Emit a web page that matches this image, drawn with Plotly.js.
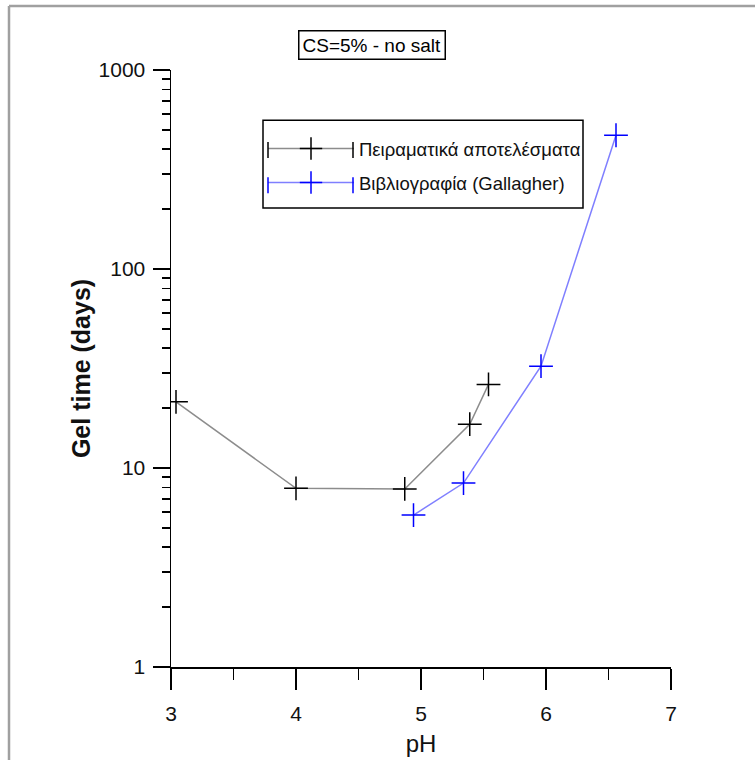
<!DOCTYPE html>
<html>
<head>
<meta charset="utf-8">
<script src="https://cdn.plot.ly/plotly-3.0.1.min.js"></script>
<style>
  html, body { margin: 0; padding: 0; background: #fff; }
  #chart { width: 755px; height: 760px; }
</style>
</head>
<body>
<div id="chart"></div>
<script>
// Data
const expPH = [3.04, 4.0, 4.87, 5.39, 5.54];
const expDays = [21.5, 7.9, 7.85, 16.6, 26.3];
const litPH = [4.94, 5.34, 5.96, 6.56];
const litDays = [5.8, 8.4, 32.5, 470];

const seriesNames = ["Πειραματικά αποτελέσματα", "Βιβλιογραφία (Gallagher)"];
const chartTitle = "CS=5% - no salt";
const xTitle = "pH";
const yTitle = "Gel time (days)";
const xTicks = [3, 4, 5, 6, 7];
const yTicks = [1, 10, 100, 1000];

const FONT = "Liberation Sans, Arial, sans-serif";
const tickFont = { family: FONT, size: 21, color: "#111" };

const traces = [
  {
    x: expPH, y: expDays, name: seriesNames[0], type: "scatter", mode: "lines+markers",
    legendgroup: "a",
    line: { color: "rgba(0,0,0,0.45)", width: 1.5 },
    marker: { symbol: "cross-thin", size: 17, line: { color: "#000", width: 1.5 }, color: "#000" }
  },
  {
    x: litPH, y: litDays, name: seriesNames[1], type: "scatter", mode: "lines+markers",
    legendgroup: "b",
    line: { color: "rgba(0,0,255,0.5)", width: 1.5 },
    marker: { symbol: "cross-thin", size: 17, line: { color: "#0000ff", width: 1.5 }, color: "#0000ff" }
  }
];

// legend decoration helpers (paper coordinates)
function vtick(x, y, color) {
  return { type: "line", xref: "paper", yref: "paper", layer: "above",
           x0: x, x1: x, y0: y - 0.0134, y1: y + 0.0134, line: { color: color, width: 1.5 } };
}

const layout = {
  width: 755, height: 760,
  margin: { l: 171, r: 84, t: 70, b: 93 },
  paper_bgcolor: "#fff", plot_bgcolor: "#fff",
  showlegend: true,
  legend: {
    x: 0.184, y: 0.8995, xanchor: "left", yanchor: "top",
    bgcolor: "rgba(0,0,0,0)", borderwidth: 0,
    font: { family: FONT, size: 18.5, color: "#111" },
    itemwidth: 86, traceorder: "grouped", tracegroupgap: 7
  },
  xaxis: {
    type: "linear", range: [3, 7], tickvals: xTicks, ticktext: xTicks.map(String),
    showgrid: false, zeroline: false, showline: true, linecolor: "#000", linewidth: 1.5,
    ticks: "outside", ticklen: 21, tickwidth: 1.5, tickcolor: "#000",
    minor: { dtick: 0.5, ticks: "outside", ticklen: 11, tickwidth: 1.5, tickcolor: "#000" },
    tickfont: tickFont, ticklabelstandoff: 6,
    title: { text: xTitle, font: { family: FONT, size: 24, color: "#111" }, standoff: 11 }
  },
  yaxis: {
    type: "log", range: [0, 3], tickvals: yTicks, ticktext: yTicks.map(String),
    showgrid: false, zeroline: false, showline: true, linecolor: "#000", linewidth: 1.5,
    ticks: "outside", ticklen: 17, tickwidth: 1.5, tickcolor: "#000",
    minor: { dtick: "D1", ticks: "outside", ticklen: 8, tickwidth: 1.5, tickcolor: "#000" },
    tickfont: tickFont, ticklabelstandoff: 3,
    title: { text: yTitle, font: { family: FONT, size: 25, color: "#111", weight: "bold" }, standoff: 1 }
  },
  annotations: [
    {
      xref: "paper", yref: "paper", x: 0.402, y: 1.0168, xanchor: "center", yanchor: "bottom",
      text: chartTitle, showarrow: false,
      font: { family: FONT, size: 19, color: "#000" },
      bordercolor: "#000", borderwidth: 1.5, borderpad: 3, bgcolor: "#fff"
    }
  ],
  shapes: [
    // outer window frame
    { type: "line", xref: "paper", yref: "paper", x0: -0.324, x1: 1.2, y0: 1.107, y1: 1.107, line: { color: "#a0a0a0", width: 2.5 } },
    { type: "line", xref: "paper", yref: "paper", x0: -0.324, x1: -0.324, y0: 1.107, y1: -0.2, line: { color: "#a0a0a0", width: 2.5 } },
    // legend box
    { type: "rect", xref: "paper", yref: "paper", layer: "below", x0: 0.184, x1: 0.824, y0: 0.769, y1: 0.916,
      line: { color: "#000", width: 1.5 }, fillcolor: "#fff" },
    // extra cross ticks at the ends of the legend sample lines
    vtick(0.194, 0.866, "#000"), vtick(0.364, 0.866, "#000"),
    vtick(0.194, 0.807, "#0000ff"), vtick(0.364, 0.807, "#0000ff")
  ]
};

Plotly.newPlot("chart", traces, layout, { displayModeBar: false, staticPlot: true });
</script>
</body>
</html>
